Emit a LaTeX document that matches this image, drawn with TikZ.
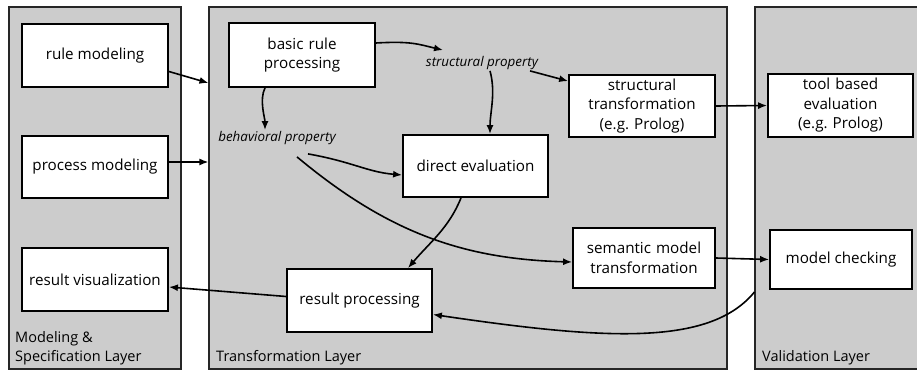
\documentclass[tikz,border=0pt]{standalone}
\usepackage{fontspec}
\setmainfont{Open Sans}
\usepackage{tikz}
\usetikzlibrary{positioning, arrows.meta}

\begin{document}
\begin{tikzpicture}[
    x=1pt, y=-1pt,
    layer/.style={
        rectangle,
        draw=black!85, fill=black!20,
        line width=1.1pt,
        inner sep=0pt
    },
    box/.style={
        rectangle,
        draw=black, fill=white,
        line width=1.8pt,
        text centered,
        align=center,
        font=\fontsize{15.2}{19.5}\selectfont,
        inner sep=2pt
    },
    prop/.style={
        font=\fontsize{13.4}{15}\selectfont\itshape,
        inner sep=1pt
    },
    layerlabel/.style={
        font=\fontsize{14.5}{19}\selectfont,
        align=left,
        inner sep=0pt
    },
    link/.style={
        -{Latex[length=9pt, width=7pt]},
        line width=1.6pt
    }
]
\useasboundingbox (0,0) rectangle (917,371);

% layers
\node[layer, minimum width=172, minimum height=362] (modeling) at (95,188) {};
\node[layer, minimum width=518, minimum height=362] (transf) at (468,188) {};
\node[layer, minimum width=175, minimum height=362] (validation) at (842.5,188) {};

\node[layerlabel, anchor=south west] (modlabel) at (15,365) {Modeling \&\\Specification Layer};
\node[layerlabel, anchor=south west] (translabel) at (216,365) {Transformation Layer};
\node[layerlabel, anchor=south west] (vallabel) at (762,365) {Validation Layer};

% modeling and specification
\node[box, minimum width=146, minimum height=63] (rulemod) at (95,55.5) {rule modeling};
\node[box, minimum width=146, minimum height=62] (procmod) at (95,167) {process modeling};
\node[box, minimum width=146, minimum height=63] (resvis) at (95,279.5) {result visualization};

% transformation
\node[box, minimum width=146, minimum height=64, text width=120] (basic) at (302,55) {basic rule\\processing};
\node[prop] (structprop) at (482,63) {structural property};
\node[prop] (behavprop) at (277,138) {behavioral property};
\node[box, minimum width=145, minimum height=62] (direct) at (475.5,166) {direct evaluation};
\node[box, minimum width=146, minimum height=62, text width=136] (structtrans) at (642,106) {structural\\transformation\\(e.g.\ Prolog)};
\node[box, minimum width=142, minimum height=60, text width=136] (semtrans) at (644,258) {semantic model\\transformation};
\node[box, minimum width=145, minimum height=63] (resproc) at (359.5,300.5) {result processing};

% validation
\node[box, minimum width=145, minimum height=63, text width=136] (tooleval) at (840.5,105.5) {tool based\\evaluation\\(e.g.\ Prolog)};
\node[box, minimum width=142, minimum height=59] (modcheck) at (841,259.5) {model checking};

% connectors
\draw[link] ([yshift=-16pt]rulemod.east) -- ([yshift=105pt]transf.west);
\draw[link] ([yshift=5pt]procmod.east) -- ([yshift=26pt]transf.west);
\draw[link] ([yshift=12pt]basic.east) .. controls +(35,-2) and +(-25,-6) .. ([xshift=-39pt,yshift=5pt]structprop.north);
\draw[link] ([xshift=-37pt]basic.south) .. controls +(-6,12) and +(0,-12) .. ([xshift=-12pt]behavprop.north);
\draw[link] ([xshift=48pt]structprop.south) -- ([yshift=-7pt]structtrans.north west);
\draw[link] ([xshift=8pt]structprop.south) .. controls +(6,22) and +(0,-22) .. ([xshift=14.5pt]direct.north);
\draw[link] ([xshift=31pt,yshift=-8pt]behavprop.south) .. controls +(45,8) and +(-35,-3) .. ([yshift=-9pt]direct.west);
\draw[link] ([xshift=20pt,yshift=-11pt]behavprop.south) .. controls +(90,75) and +(-110,-3) .. ([yshift=-4pt]semtrans.west);
\draw[link] ([xshift=-14.5pt]direct.south) .. controls +(-12,30) and +(22,-26) .. ([xshift=48.5pt]resproc.north);
\draw[link] (structtrans.east) -- (tooleval.west);
\draw[link] (semtrans.east) -- (modcheck.west);
\draw[link] ([yshift=-104pt]validation.west) .. controls +(-45,55) and +(170,25) .. ([yshift=-14pt]resproc.east);
\draw[link] ([yshift=4pt]resproc.west) -- ([yshift=-7.5pt]resvis.east);

\end{tikzpicture}
\end{document}
